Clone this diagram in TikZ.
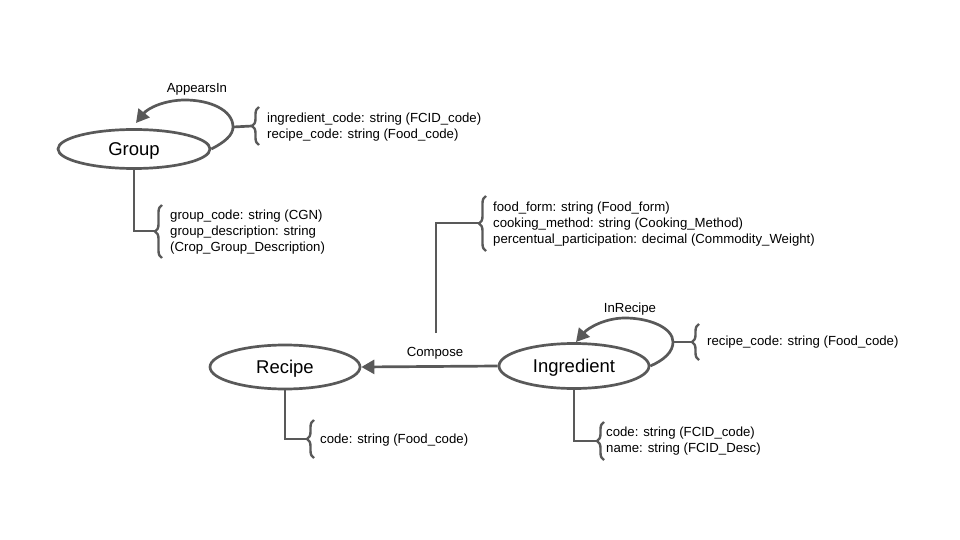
\documentclass[tikz,border=0pt]{standalone}
\usepackage{fontspec}
\setmainfont{Liberation Sans}
\usetikzlibrary{arrows.meta,decorations.pathreplacing,shapes.geometric}
\definecolor{lin}{HTML}{595959}
\tikzset{
  ent/.style={ellipse,draw=lin,line width=2.7pt,inner sep=0pt,text height=13.2pt,text depth=0pt,font=\fontsize{18.5}{22}\selectfont,text=black},
  attr/.style={anchor=west,inner sep=0pt,align=left,font=\fontsize{13.2}{16}\selectfont,text=black},
  lab/.style={inner sep=0pt,font=\fontsize{13.2}{16}\selectfont,text=black},
  conn/.style={draw=lin,line width=2.7pt},
  arr/.style={conn,-{Triangle[length=13pt,width=14pt]}},
  brc/.style={draw=lin,line width=2.4pt,decorate,decoration={brace,amplitude=7pt}}
}
\begin{document}
\begin{tikzpicture}[x=1pt,y=-1pt]
\useasboundingbox (0,0) rectangle (960,540);
% entities
\node[ent,minimum width=152pt,minimum height=39pt] (group) at (134,149) {Group};
\node[ent,minimum width=150pt,minimum height=44pt] (recipe) at (285,367) {Recipe};
\node[ent,minimum width=150pt,minimum height=45pt] (ingr) at (574,366) {Ingredient};
% attribute texts
\node[attr] (gattr) at (170,232) {group\_code: string (CGN)\\group\_description: string\\(Crop\_Group\_Description)};
\node[attr] (lattr) at (267,127) {ingredient\_code: string (FCID\_code)\\recipe\_code: string (Food\_code)};
\node[attr] (cattr) at (493,224) {food\_form: string (Food\_form)\\cooking\_method: string (Cooking\_Method)\\percentual\_participation: decimal (Commodity\_Weight)};
\node[attr] (rattr) at (320,440) {code: string (Food\_code)};
\node[attr] (iattr) at (606,441) {code: string (FCID\_code)\\name: string (FCID\_Desc)};
\node[attr] (irattr) at (707,342) {recipe\_code: string (Food\_code)};
% labels
\node[lab] (lapp) at (197,89) {AppearsIn};
\node[lab] (lcomp) at (435,353) {Compose};
\node[lab] (linr) at (630,309) {InRecipe};
% coordinates
\coordinate (gtip) at (155,231);
\coordinate (ltip) at (252,126);
\coordinate (ctip) at (479,223);
\coordinate (cfree) at (436,333);
\coordinate (rtip) at (307,439);
\coordinate (itip) at (597,441);
\coordinate (irtip) at (692,342);
\coordinate (gloop) at (233,127);
\coordinate (iloop) at (673,342);
% braces
\draw[brc] (162,258) -- (162,205);
\draw[brc] (259,145) -- (259,107);
\draw[brc] (486,251) -- (486,196);
\draw[brc] (314,458) -- (314,420);
\draw[brc] (604,460) -- (604,422);
\draw[brc] (699,360) -- (699,324);
% connectors
\draw[conn] (group.south) |- (gtip);
\draw[conn] (recipe.south) |- (rtip);
\draw[conn] (ingr.south) |- (itip);
\draw[conn] (cfree) |- (ctip);
\draw[conn] (gloop) -- (ltip);
\draw[conn] (iloop) -- (irtip);
\draw[arr] (ingr.west) -- (recipe.east);
\draw[arr] (group.east) .. controls (225,142) and (233,135) .. (gloop)
  .. controls (233,110) and (210,100) .. (185,100)
  .. controls (165,100) and (148,108) .. (136,123);
\draw[arr] (ingr.east) .. controls (664,360) and (673,352) .. (iloop)
  .. controls (673,328) and (650,318) .. (625,318)
  .. controls (605,318) and (588,328) .. (576,342);
\end{tikzpicture}
\end{document}
